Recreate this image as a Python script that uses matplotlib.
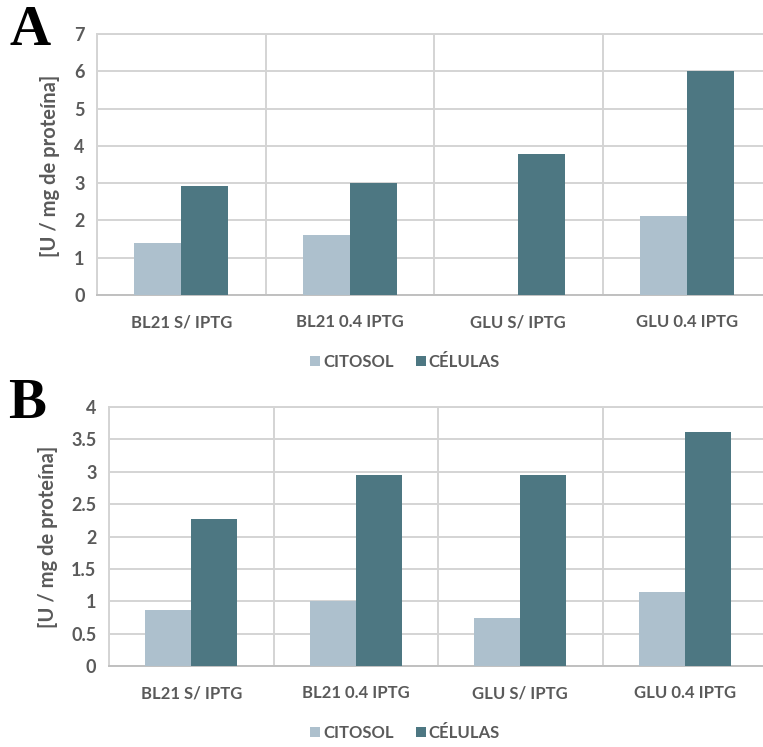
# Enzyme activity per mg protein, panels A and B: CITOSOL vs CÉLULAS
import numpy as np
import matplotlib.pyplot as plt
from matplotlib.patches import Patch

plt.rcParams['font.family'] = ['Lato', 'DejaVu Sans']

categories = ["BL21 S/ IPTG", "BL21 0.4 IPTG", "GLU S/ IPTG", "GLU 0.4 IPTG"]
series_names = ["CITOSOL", "CÉLULAS"]

# Panel A
citosol_a = [1.39, 1.61, 0.0, 2.12]
celulas_a = [2.92, 3.00, 3.78, 6.01]
yticks_a = [0, 1, 2, 3, 4, 5, 6, 7]
ytlabels_a = ["0", "1", "2", "3", "4", "5", "6", "7"]

# Panel B
citosol_b = [0.86, 1.00, 0.74, 1.15]
celulas_b = [2.27, 2.95, 2.95, 3.62]
yticks_b = [0, 0.5, 1, 1.5, 2, 2.5, 3, 3.5, 4]
ytlabels_b = ["0", "0.5", "1", "1.5", "2", "2.5", "3", "3.5", "4"]

c_light = "#adc0cd"
c_dark = "#4d7782"
grid_c = "#d4d4d4"
text_c = "#5a5a5a"
weight = "bold"

W, H = 763, 747
fig = plt.figure(figsize=(W / 100, H / 100), dpi=100)
fig.patch.set_facecolor("white")


def px_axes(l, t, r, b):
    return fig.add_axes([l / W, 1 - b / H, (r - l) / W, (b - t) / H])


def draw_panel(ax, citosol, celulas, yticks, ytlabels):
    x = np.arange(len(categories))
    w = 0.28
    ax.bar(x - w / 2, citosol, w, color=c_light, zorder=3)
    ax.bar(x + w / 2, celulas, w, color=c_dark, zorder=3)
    ax.set_xlim(-0.5, len(categories) - 0.5)
    ax.set_ylim(yticks[0], yticks[-1])
    ax.set_yticks(yticks)
    ax.set_yticklabels(ytlabels)
    ax.set_xticks(x)
    ax.set_xticklabels(categories)
    ax.set_xticks(np.arange(-0.5, len(categories)), minor=True)
    ax.grid(True, axis="y", color=grid_c, lw=1.4, zorder=0)
    ax.grid(True, axis="x", which="minor", color=grid_c, lw=1.4, zorder=0)
    ax.grid(False, axis="x", which="major")
    ax.tick_params(which="both", length=0)
    ax.tick_params(axis="y", pad=9, labelsize=13, labelcolor=text_c)
    ax.tick_params(axis="x", pad=14, labelsize=12, labelcolor=text_c)
    for s in ax.spines.values():
        s.set_color(grid_c)
        s.set_linewidth(1.4)
    ax.spines["bottom"].set_color("#c0c0c0")
    for lab in ax.get_xticklabels() + ax.get_yticklabels():
        lab.set_fontweight(weight)


ax_a = px_axes(97, 34, 771, 295)
draw_panel(ax_a, citosol_a, celulas_a, yticks_a, ytlabels_a)
ax_b = px_axes(109, 407, 767, 666)
draw_panel(ax_b, citosol_b, celulas_b, yticks_b, ytlabels_b)

ylab = "[U / mg de proteína]"
fig.text(50 / W, 1 - 166 / H, ylab, rotation=90, ha="center", va="center",
         fontsize=14.5, color=text_c, fontweight=weight)
fig.text(48 / W, 1 - 537 / H, ylab, rotation=90, ha="center", va="center",
         fontsize=14.5, color=text_c, fontweight=weight)

# panel letters
fig.text(10 / W, 1 - 31 / H, "A", ha="left", va="center", fontsize=41,
         fontweight="bold", family="Liberation Serif", color="black")
fig.text(8 / W, 1 - 404 / H, "B", ha="left", va="center", fontsize=41,
         fontweight="bold", family="Liberation Serif", color="black")

handles = [Patch(facecolor=c_light), Patch(facecolor=c_dark)]
for yc in (362, 733):
    leg = fig.legend(handles, series_names, loc="center",
                     bbox_to_anchor=(405 / W, 1 - yc / H), ncol=2, frameon=False,
                     handlelength=0.6, handleheight=0.6, handletextpad=0.2,
                     columnspacing=1.3, fontsize=12)
    for t in leg.get_texts():
        t.set_color(text_c)
        t.set_fontweight(weight)

fig.savefig("out.png", dpi=100)
